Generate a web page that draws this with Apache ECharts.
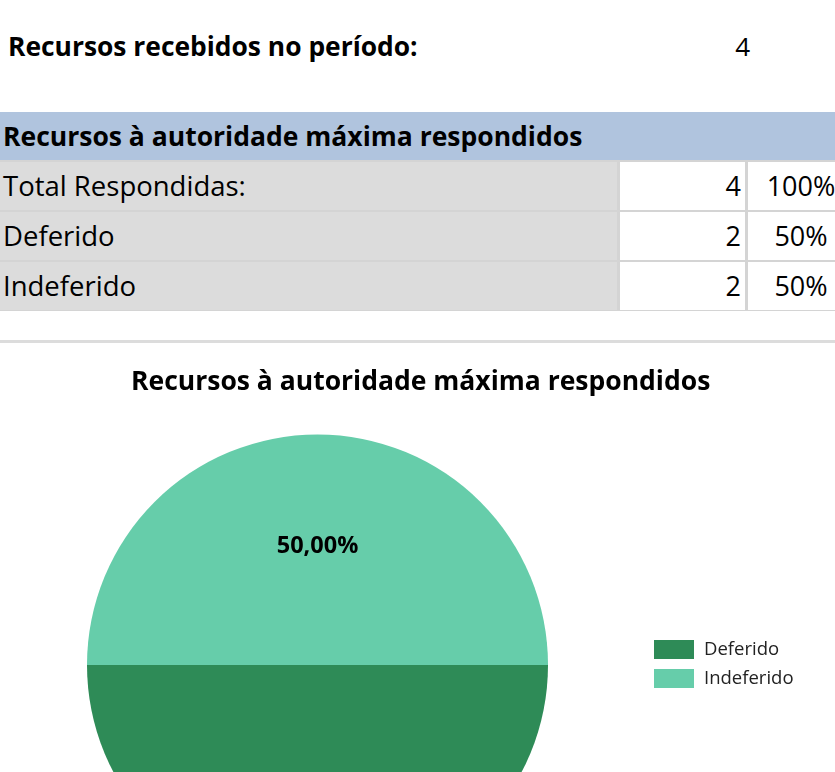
<!DOCTYPE html>
<html>
<head>
<meta charset="utf-8">
<script src="https://cdn.jsdelivr.net/npm/echarts@6/dist/echarts.min.js"></script>
<style>
  html, body { margin:0; padding:0; background:#fff; width:835px; height:772px; overflow:hidden; font-family:"Open Sans", sans-serif; color:#000; }
  .abs { position:absolute; white-space:nowrap; }
  #top { left:8px; top:28px; font-weight:bold; font-size:26.4px; line-height:36px; }
  #topVal { left:700px; width:50px; top:28px; text-align:right; font-size:26px; line-height:36px; }
  #hdr { left:0; top:112px; width:835px; height:48px; background:#B0C4DE; }
  #hdrText { left:3px; top:112px; height:48px; line-height:48px; font-weight:bold; font-size:26.5px; }
  .lab { left:0; width:617px; height:48px; background:#DCDCDC; line-height:48px; font-size:27.5px; padding-left:3px; box-sizing:border-box; }
  .num { left:620px; width:125px; height:48px; background:#fff; line-height:48px; font-size:27px; text-align:right; padding-right:4px; box-sizing:border-box; }
  .pct { left:748px; width:106px; height:48px; background:#fff; line-height:48px; font-size:27px; text-align:center; box-sizing:border-box; }
  #grid { left:0; top:160px; width:835px; height:151px; background:#D4D4D4; }
  #chartBox { position:absolute; left:0; top:340px; width:835px; height:432px; border-top:3px solid #DCDCDC; box-sizing:border-box; }
  #chart { position:absolute; left:0; top:0; width:835px; height:432px; }
</style>
</head>
<body>
<div id="root"></div>
<div id="chartBox"><div id="chart"></div></div>
<script>
// ---- data ----
var receivedLabel = 'Recursos recebidos no período:';
var receivedCount = 4;
var tableTitle = 'Recursos à autoridade máxima respondidos';
var totalLabel = 'Total Respondidas:';
var categories = ['Deferido', 'Indeferido'];
var values = [2, 2];
var colors = ['#2E8B57', '#66CDAA'];
var chartTitle = 'Recursos à autoridade máxima respondidos';

// ---- header + table (HTML) ----
var root = document.getElementById('root');
function el(cls, id, text, style) {
  var d = document.createElement('div');
  d.className = 'abs ' + (cls || '');
  if (id) d.id = id;
  if (text !== undefined) d.textContent = text;
  if (style) d.setAttribute('style', style);
  root.appendChild(d);
  return d;
}
el('', 'top', receivedLabel);
el('', 'topVal', String(receivedCount));
el('', 'hdr');
el('', 'grid');
el('', 'hdrText', tableTitle);
var total = values.reduce(function (a, b) { return a + b; }, 0);
var rows = [[totalLabel, total]].concat(categories.map(function (c, i) { return [c, values[i]]; }));
rows.forEach(function (r, i) {
  var top = 162 + i * 50;
  el('lab', null, r[0], 'top:' + top + 'px');
  el('num', null, String(r[1]), 'top:' + top + 'px');
  el('pct', null, Math.round(r[1] / total * 100) + '%', 'top:' + top + 'px');
});

// ---- chart ----
var chart = echarts.init(document.getElementById('chart'), null, { renderer: 'canvas' });
chart.setOption({
  animation: false,
  title: {
    text: chartTitle,
    left: 126,
    top: 21,
    textStyle: { fontFamily: 'Open Sans', fontWeight: 'bold', fontSize: 26.5, color: '#000' }
  },
  legend: {
    orient: 'vertical',
    left: 654,
    top: 297,
    padding: 0,
    icon: 'rect',
    itemWidth: 40,
    itemHeight: 19,
    itemGap: 10,
    data: categories,
    textStyle: { fontFamily: 'Open Sans', fontSize: 18.5, color: '#222', padding: [0, 0, 0, 5] }
  },
  series: [{
    type: 'pie',
    center: [317.5, 322],
    radius: 230.5,
    startAngle: 0,
    clockwise: true,
    silent: true,
    label: {
      position: 'inside',
      fontFamily: 'Open Sans',
      fontWeight: 'bold',
      fontSize: 23.5,
      color: '#000',
      padding: [4, 0, 0, 0],
      formatter: function (p) { return p.percent.toFixed(2).replace('.', ',') + '%'; }
    },
    labelLine: { show: false },
    data: categories.map(function (c, i) {
      return { name: c, value: values[i], itemStyle: { color: colors[i] } };
    })
  }]
});
</script>
</body>
</html>
